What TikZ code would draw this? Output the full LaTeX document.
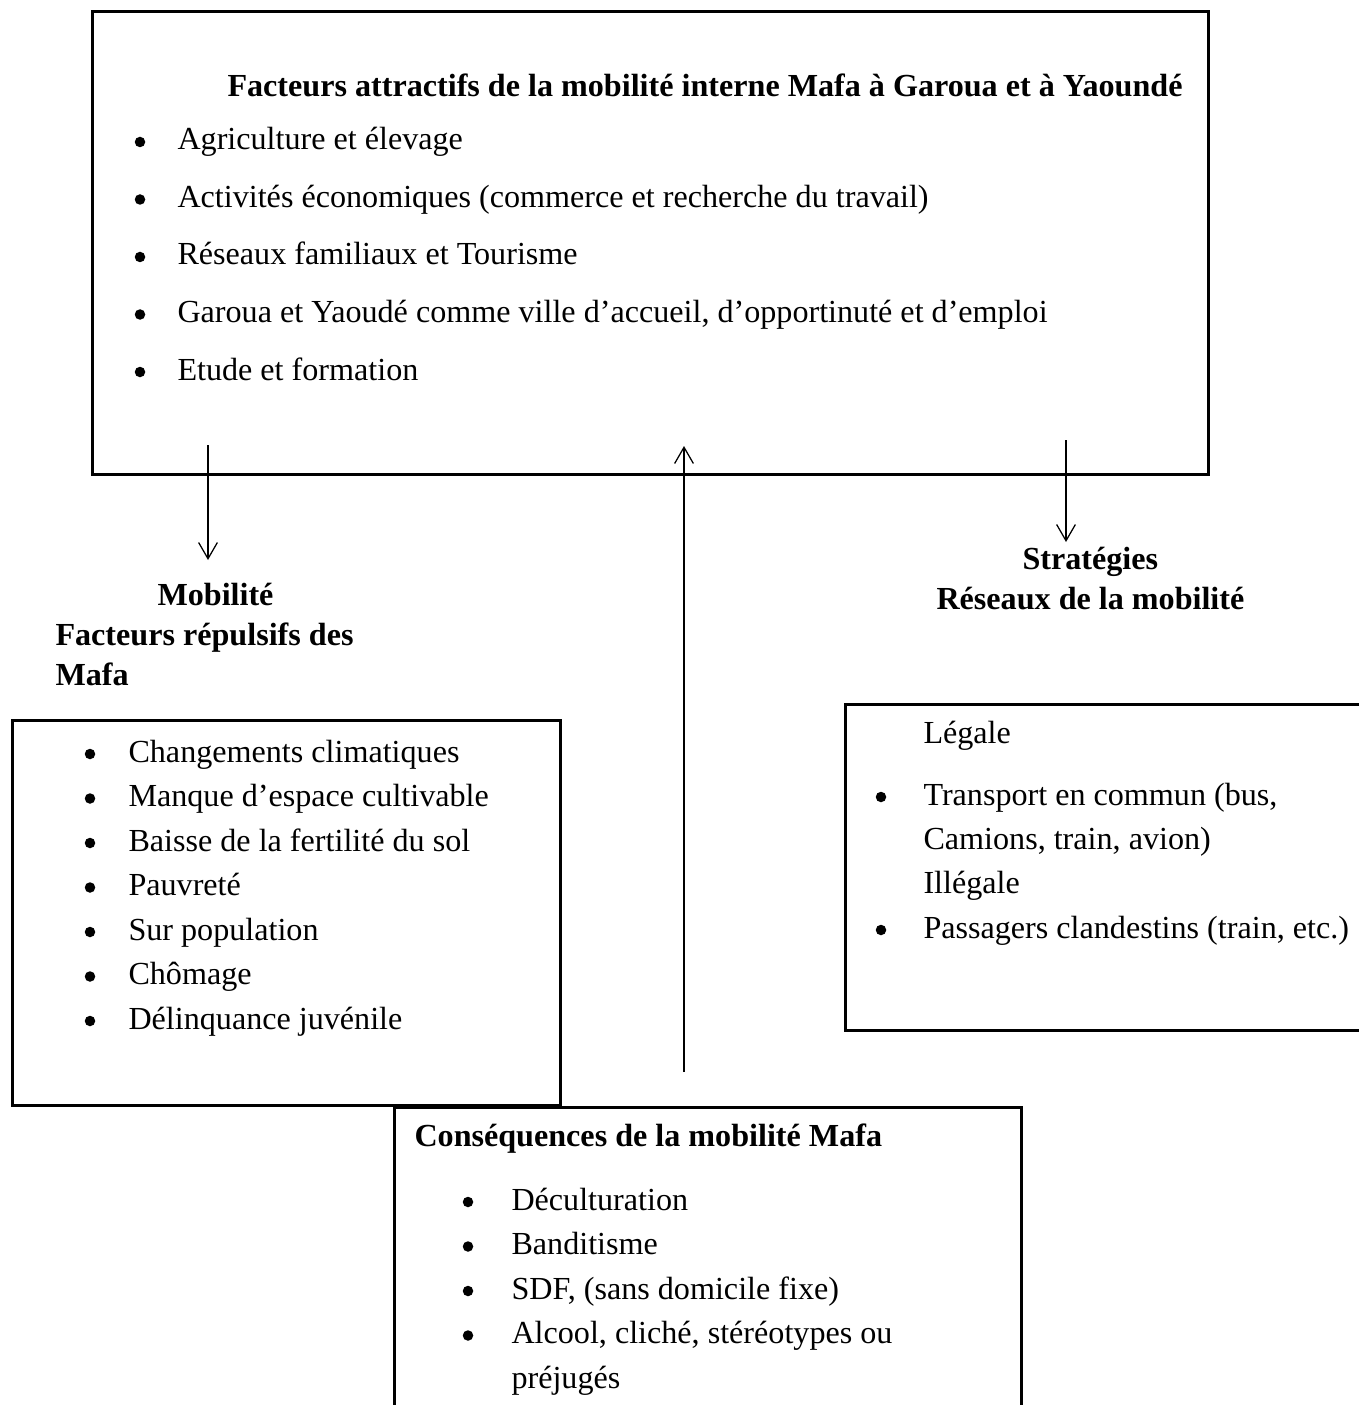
\documentclass[tikz,border=0pt]{standalone}
\usepackage{fontspec}
\setmainfont{Liberation Serif}
\usepackage{tikz}
\usetikzlibrary{arrows.meta,positioning}
\tikzset{>={Straight Barb[length=6.5pt,width=7.5pt]}}
\tikzset{
    every node/.style={font=\fontsize{12.85pt}{15pt}\selectfont, inner sep=0pt},
    item/.style={anchor=base west},
    head/.style={anchor=base west, font=\fontsize{12.85pt}{15pt}\selectfont\bfseries},
    puce/.style={circle, fill=black, minimum size=4.2pt},
    cadre/.style={line width=1.2pt},
    fleche/.style={->, line width=0.5pt}
}

\begin{document}
\begin{tikzpicture}[x=0.4pt, y=-0.4pt]
            \useasboundingbox (0,0) rectangle (1359,1405);

            \draw[cadre] (92,12) rectangle (1208,474);
            \node[head] (attrT) at (227,97) {Facteurs attractifs de la mobilité interne Mafa à Garoua et à Yaoundé};

            \foreach \txt [count=\i] in {Agriculture et élevage,
                Activités économiques (commerce et recherche du travail),
                Réseaux familiaux et Tourisme,
                {Garoua et Yaoudé comme ville d’accueil, d’opportinuté et d’emploi},
                Etude et formation}
            {
            \node[puce] (attrP\i) at (140,{142+57.5*(\i-1)}) {};
            \node[item] (attr\i) at (177,{150+57.5*(\i-1)}) {\txt};
            }

            \coordinate (mobS) at (208,445);
            \coordinate (mobE) at (208,560);
            \coordinate (consS) at (684,1072);
            \coordinate (consE) at (684,446);
            \coordinate (stratS) at (1066,440);
            \coordinate (stratE) at (1066,542);
            \draw[fleche] (mobS) -- (mobE);
            \draw[fleche] (consS) -- (consE);
            \draw[fleche] (stratS) -- (stratE);

            \node[head] (mobT1) at (157,605) {Mobilité};
            \node[head] (mobT2) at (55,645) {Facteurs répulsifs des};
            \node[head] (mobT3) at (55,685) {Mafa};

            \draw[cadre] (12,720) rectangle (560,1105);
            \foreach \txt [count=\i] in {Changements climatiques,
                Manque d’espace cultivable,
                Baisse de la fertilité du sol,
                Pauvreté,
                Sur population,
                Chômage,
                Délinquance juvénile}
            {
            \node[puce] (repP\i) at (90,{754+44.5*(\i-1)}) {};
            \node[item] (rep\i) at (128,{762+44.5*(\i-1)}) {\txt};
            }

            \node[head] (stratT1) at (1022,569) {Stratégies};
            \node[head] (stratT2) at (936,609) {Réseaux de la mobilité};

            \draw[cadre] (1359,704) -- (845,704) -- (845,1030) -- (1359,1030);
            \node[item] (leg) at (923,743) {Légale};
            \node[puce] (stratP1) at (881,797) {};
            \node[item] (strat1) at (923,805) {Transport en commun (bus,};
            \node[item] (strat1b) at (923,849) {Camions, train, avion)};
            \node[item] (illeg) at (923,893) {Illégale};
            \node[puce] (stratP2) at (881,930) {};
            \node[item] (strat2) at (923,938) {Passagers clandestins (train, etc.)};

            \draw[cadre] (394,1405) -- (394,1107) -- (1021,1107) -- (1021,1405);
            \node[head] (consT) at (414,1146) {Conséquences de la mobilité Mafa};
            \foreach \txt [count=\i] in {Déculturation,
                Banditisme,
                {SDF, (sans domicile fixe)},
                {Alcool, cliché, stéréotypes ou}}
            {
            \node[puce] (consP\i) at (468,{1202+44.5*(\i-1)}) {};
            \node[item] (cons\i) at (511,{1210+44.5*(\i-1)}) {\txt};
            }
            \node[item] (cons4b) at (511,1388) {préjugés};
        \end{tikzpicture}
\end{document}
